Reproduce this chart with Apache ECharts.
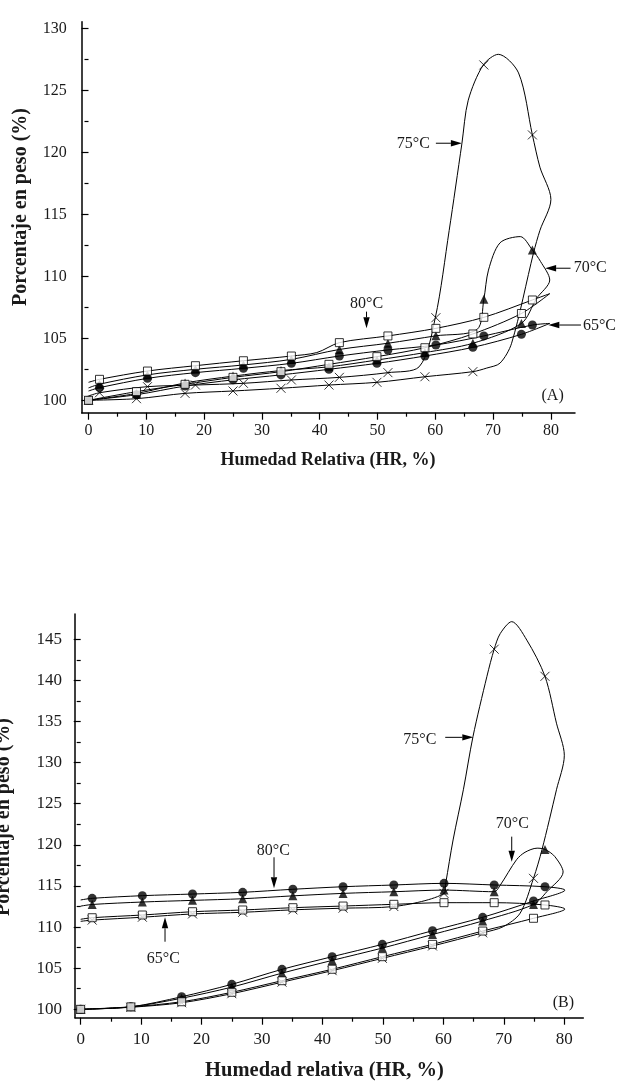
<!DOCTYPE html>
<html><head><meta charset="utf-8">
<script src="https://cdn.jsdelivr.net/npm/echarts@6/dist/echarts.min.js"></script>
<style>html,body{margin:0;padding:0;background:#fff}#c{width:619px;height:1084px}</style>
</head><body><div id="c"></div>
<script>
// ---------- DATA ----------
const SORP_X   = [0, 8.3, 16.7, 25, 33.3, 41.6, 49.9, 58.2, 66.5, 74.9];
const DESORP_X = [76.8, 68.4, 60.1, 51.8, 43.4, 35.1, 26.8, 18.5, 10.2, 1.9];
const X_TICK_MIN = 0, X_TICK_MAX = 80, X_TICK_STEP = 10;
const A_Y_TICK = [100, 130, 5];
const B_Y_TICK = [100, 145, 5];

// Panel A – markers
const A_65_SORP   = [100, 100.45, 101.15, 101.65, 102.05, 102.5, 102.98, 103.57, 104.27, 105.32];
const A_65_DESORP = [106.07, 105.19, 104.46, 104.06, 103.57, 102.98, 102.58, 102.23, 101.77, 101.02];
const A_70_SORP   = [100, 100.55, 101.4, 101.95, 102.4, 102.7, 103.25, 103.85, 104.6, 106.2];
const A_70_DESORP = [112.12, 108.15, 105.2, 104.6, 104.1, 103.3, 102.85, 102.5, 102.05, 101.3];
const A_75_SORP   = [100, 100.13, 100.56, 100.75, 100.97, 101.23, 101.45, 101.9, 102.31];
const A_75_DESORP = [121.4, 127.04, 106.66, 102.23, 101.85, 101.64, 101.37, 101.23, 101.1, 100.61];
const A_80_SORP   = [100, 100.7, 101.29, 101.85, 102.31, 102.9, 103.52, 104.24, 105.35, 107.0];
const A_80_DESORP = [108.09, 106.69, 105.8, 105.19, 104.65, 103.57, 103.19, 102.79, 102.36, 101.69];

// Panel A – fitted curves
const A_65_CURVE = [[0,100],[8.3,100.45],[16.7,101.15],[25,101.65],[33.3,102.05],[41.6,102.5],[49.9,102.98],[58.2,103.57],[66.5,104.27],[74.9,105.32],[79.8,106.2],[76.8,106.07],[68.4,105.19],[60.1,104.46],[51.8,104.06],[43.4,103.57],[35.1,102.98],[26.8,102.58],[18.5,102.23],[10.2,101.77],[1.9,101.02],[0,100.75]];
const A_70_CURVE = [[0,100],[8.3,100.55],[16.7,101.4],[25,101.95],[33.3,102.4],[41.6,102.7],[49.9,103.25],[58.2,103.85],[66.5,104.6],[74.9,106.2],[77.5,108.2],[79.8,109.7],[78.2,111.2],[76.8,112.12],[74.7,113.2],[71.2,112.7],[69.2,110.5],[68.4,108.15],[67.2,105.7],[60.1,105.2],[51.8,104.6],[43.4,104.1],[35.1,103.3],[26.8,102.85],[18.5,102.5],[10.2,102.05],[1.9,101.3],[0,101.0]];
const A_75_CURVE = [[0,100],[8.3,100.13],[16.7,100.56],[25,100.75],[33.3,100.97],[41.6,101.23],[49.9,101.45],[58.2,101.9],[66.5,102.31],[68.9,102.6],[71.2,103.0],[73.2,104.6],[77.0,111.9],[78.1,113.7],[80.0,116.2],[78.1,118.8],[76.8,121.4],[74.4,126.4],[70.9,127.9],[68.3,127.04],[65.7,124.2],[64.6,120.7],[62.4,113.7],[60.0,106.66],[57.2,102.7],[51.8,102.23],[43.4,101.85],[35.1,101.64],[26.8,101.37],[18.5,101.23],[10.2,101.1],[1.9,100.61],[0,100.35]];
const A_80_CURVE = [[0,100],[8.3,100.7],[16.7,101.29],[25,101.85],[33.3,102.31],[41.6,102.9],[49.9,103.52],[58.2,104.24],[66.5,105.35],[74.9,107.0],[79.8,108.6],[76.8,108.09],[68.4,106.69],[60.1,105.8],[51.8,105.19],[43.4,104.65],[39.5,103.85],[35.1,103.57],[26.8,103.19],[18.5,102.79],[10.2,102.36],[1.9,101.69],[0,101.45]];

// Panel B – markers
const B_65_SORP   = [100, 100.3, 101.53, 103.04, 104.86, 106.4, 107.9, 109.56, 111.19, 113.17];
const B_65_DESORP = [114.91, 115.12, 115.32, 115.12, 114.91, 114.6, 114.23, 114.02, 113.82, 113.5];
const B_70_SORP   = [100, 100.3, 101.35, 102.7, 104.4, 105.95, 107.45, 109.1, 110.75, 112.75];
const B_70_DESORP = [119.45, 114.3, 114.5, 114.3, 114.1, 113.8, 113.45, 113.25, 113.05, 112.75];
const B_75_SORP   = [100, 100.25, 100.8, 101.9, 103.3, 104.7, 106.2, 107.7, 109.3, 115.93];
const B_75_DESORP = [140.5, 143.8, 114.1, 112.5, 112.3, 112.1, 111.8, 111.6, 111.2, 110.85];
const B_80_SORP   = [100, 100.3, 100.92, 102.07, 103.48, 104.87, 106.4, 107.9, 109.52, 111.07];
const B_80_DESORP = [112.69, 112.97, 112.97, 112.77, 112.56, 112.36, 112.08, 111.87, 111.47, 111.14];

// Panel B – fitted curves
const B_65_CURVE = [[0,100],[8.3,100.3],[16.7,101.53],[25,103.04],[33.3,104.86],[41.6,106.4],[49.9,107.9],[58.2,109.56],[66.5,111.19],[74.9,113.17],[80.1,114.5],[76.8,114.91],[68.4,115.12],[60.1,115.32],[51.8,115.12],[43.4,114.91],[35.1,114.6],[26.8,114.23],[18.5,114.02],[10.2,113.82],[1.9,113.5],[0,113.3]];
const B_70_CURVE = [[0,100],[8.3,100.3],[16.7,101.35],[25,102.7],[33.3,104.4],[41.6,105.95],[49.9,107.45],[58.2,109.1],[66.5,110.75],[74.9,112.75],[77.1,114.3],[79.8,116.7],[78.4,118.6],[76.8,119.45],[75.5,119.6],[73.5,119.1],[72.1,118.2],[69.4,115.1],[68.4,114.3],[60.1,114.5],[51.8,114.3],[43.4,114.1],[35.1,113.8],[26.8,113.45],[18.5,113.25],[10.2,113.05],[1.9,112.75],[0,112.55]];
const B_75_CURVE = [[0,100],[8.3,100.25],[16.7,100.8],[25,101.9],[33.3,103.3],[41.6,104.7],[49.9,106.2],[58.2,107.7],[66.5,109.3],[69.9,110.05],[72.7,111.7],[74.9,115.93],[76.3,119.4],[78.7,126.7],[80.0,130.9],[78.7,134.8],[76.8,140.5],[73.8,144.9],[71.3,147.15],[69.4,145.7],[68.4,143.8],[67.2,140.5],[64.9,133.2],[63.3,126.7],[61.6,120.6],[60.4,115.4],[60.1,114.1],[51.8,112.5],[43.4,112.3],[35.1,112.1],[26.8,111.8],[18.5,111.6],[10.2,111.2],[1.9,110.85],[0,110.7]];
const B_80_CURVE = [[0,100],[8.3,100.3],[16.7,100.92],[25,102.07],[33.3,103.48],[41.6,104.87],[49.9,106.4],[58.2,107.9],[66.5,109.52],[74.9,111.07],[80.1,112.2],[76.8,112.69],[68.4,112.97],[60.1,112.97],[51.8,112.77],[43.4,112.56],[35.1,112.36],[26.8,112.08],[18.5,111.87],[10.2,111.47],[1.9,111.14],[0,110.95]];

// Annotations: arrows [x1,y1,x2,y2] (data units) and labels
const A_ARROWS = [[60.1,120.73,64.6,120.73],[83.4,110.65,79.0,110.65],[85.2,106.07,79.55,106.07],[48.1,107.15,48.1,105.8]];
const A_LABELS = [['75°C',56.2,120.67],['70°C',86.8,110.65],['65°C',88.4,105.99],['80°C',48.1,107.82],['(A)',80.3,100.35]];
const B_ARROWS = [[60.3,133.08,64.95,133.08],[71.3,121.0,71.3,117.95],[31.98,118.49,31.98,114.72],[13.95,108.22,13.95,111.19]];
const B_LABELS = [['75°C',56.1,132.76],['70°C',71.4,122.62],['80°C',31.86,119.29],['65°C',13.66,106.2],['(B)',79.83,100.8]];

// ---------- CHART ----------
const FONT = '"Liberation Serif", "Times New Roman", serif';
const INK = '#1a1a1a';
const pairs = (xs, ys) => ys.map((y, i) => [xs[i], y]);

const SYMBOLS = {
  circle:   {symbol:'circle', symbolSize:9, itemStyle:{color:'#000'}},
  triangle: {symbol:'triangle', symbolSize:9, itemStyle:{color:'#000'}},
  cross:    {symbol:'path://M0,0L10,10M10,0L0,10', symbolSize:9, itemStyle:{color:'rgba(0,0,0,0)', borderColor:'#000', borderWidth:1}},
  square:   {symbol:'rect', symbolSize:8, itemStyle:{color:'#fff', borderColor:'#000', borderWidth:1}}
};

const PANELS = [
  {g:0, arrows:A_ARROWS, labels:A_LABELS, loops:[
    {name:'75°C', sym:'cross', curve:A_75_CURVE, sorp:A_75_SORP, desorp:A_75_DESORP},
    {name:'70°C', sym:'triangle', curve:A_70_CURVE, sorp:A_70_SORP, desorp:A_70_DESORP},
    {name:'65°C', sym:'circle', curve:A_65_CURVE, sorp:A_65_SORP, desorp:A_65_DESORP},
    {name:'80°C', sym:'square', curve:A_80_CURVE, sorp:A_80_SORP, desorp:A_80_DESORP}]},
  {g:2, arrows:B_ARROWS, labels:B_LABELS, loops:[
    {name:'75°C', sym:'cross', curve:B_75_CURVE, sorp:B_75_SORP, desorp:B_75_DESORP},
    {name:'70°C', sym:'triangle', curve:B_70_CURVE, sorp:B_70_SORP, desorp:B_70_DESORP},
    {name:'65°C', sym:'circle', curve:B_65_CURVE, sorp:B_65_SORP, desorp:B_65_DESORP},
    {name:'80°C', sym:'square', curve:B_80_CURVE, sorp:B_80_SORP, desorp:B_80_DESORP}]}
];

function mainAxis(gridIndex, min, max) {
  return {type:'value', gridIndex, min, max,
    axisLine:{show:true, onZero:false, lineStyle:{color:'#000', width:1.5}},
    axisTick:{show:false}, axisLabel:{show:false}, splitLine:{show:false}};
}
function tickAxis(gridIndex, min, max, step, offset, margin, fs) {
  return {type:'value', gridIndex, min, max, interval:step, offset,
    axisLine:{show:false},
    axisTick:{show:true, length:7, lineStyle:{color:'#000', width:1.2}},
    minorTick:{show:true, splitNumber:2, length:4, lineStyle:{color:'#000', width:1.2}},
    axisLabel:{margin, fontSize:fs, fontFamily:FONT, color:INK},
    splitLine:{show:false}};
}

const grid = [
  {left:81.7, top:21.7, width:493.3, height:391},
  {left:88.5, top:28.3, width:462.4, height:372},
  {left:75, top:614, width:508.3, height:403.7},
  {left:80.7, top:639.3, width:483.6, height:370}
];
const xAxis = [
  mainAxis(0, -1.18, 84.17),
  tickAxis(1, X_TICK_MIN, X_TICK_MAX, X_TICK_STEP, 12.4, 10, 16),
  mainAxis(2, -0.94, 83.14),
  tickAxis(3, X_TICK_MIN, X_TICK_MAX, X_TICK_STEP, 8.4, 13, 17)
];
const yAxis = [
  mainAxis(0, 99.0, 130.53),
  tickAxis(1, A_Y_TICK[0], A_Y_TICK[1], A_Y_TICK[2], 6.8, 15, 16),
  mainAxis(2, 98.98, 148.08),
  tickAxis(3, B_Y_TICK[0], B_Y_TICK[1], B_Y_TICK[2], 5.7, 13, 17)
];

const series = [];
PANELS.forEach(p => {
  p.loops.forEach(l => series.push({type:'line', name:l.name, xAxisIndex:p.g, yAxisIndex:p.g,
    data:l.curve, showSymbol:false, symbol:'none', smooth:0.3, silent:true, z:2,
    lineStyle:{color:'#000', width:1}}));
  p.loops.forEach(l => series.push(Object.assign({type:'scatter', name:l.name, xAxisIndex:p.g, yAxisIndex:p.g,
    data:pairs(SORP_X, l.sorp).concat(pairs(DESORP_X, l.desorp)), silent:true, z:3}, SYMBOLS[l.sym])));
  series.push({type:'custom', xAxisIndex:p.g, yAxisIndex:p.g, silent:true, z:5, clip:false,
    data:p.arrows,
    renderItem:(params, api) => {
      const a = api.coord([api.value(0), api.value(1)]);
      const b = api.coord([api.value(2), api.value(3)]);
      const dx = b[0]-a[0], dy = b[1]-a[1], len = Math.hypot(dx, dy);
      const ux = dx/len, uy = dy/len, hl = 11, hw = 3.2;
      const bx = b[0]-ux*hl, by = b[1]-uy*hl;
      return {type:'group', children:[
        {type:'line', shape:{x1:a[0], y1:a[1], x2:bx, y2:by}, style:{stroke:'#000', lineWidth:1}},
        {type:'polygon', shape:{points:[[b[0],b[1]],[bx-uy*hw, by+ux*hw],[bx+uy*hw, by-ux*hw]]}, style:{fill:'#000'}}
      ]};
    }});
  const labs = p.labels;
  series.push({type:'custom', xAxisIndex:p.g, yAxisIndex:p.g, silent:true, z:6, clip:false,
    data:labs.map(l => [l[1], l[2]]),
    renderItem:(params, api) => {
      const c = api.coord([api.value(0), api.value(1)]);
      return {type:'text', x:c[0], y:c[1], style:{text:labs[params.dataIndex][0], fill:INK,
        fontSize:16, fontFamily:FONT, align:'center', verticalAlign:'middle'}};
    }});
});

const graphic = [
  {type:'text', x:328, y:460, style:{text:'Humedad Relativa (HR, %)', fill:INK, font:'bold 18px ' + FONT, align:'center', verticalAlign:'middle'}},
  {type:'text', x:21, y:207, rotation:Math.PI/2, style:{text:'Porcentaje en peso (%)', fill:INK, font:'bold 20px ' + FONT, align:'center', verticalAlign:'middle'}},
  {type:'text', x:324.5, y:1071, style:{text:'Humedad relativa (HR, %)', fill:INK, font:'bold 20.5px ' + FONT, align:'center', verticalAlign:'middle'}},
  {type:'text', x:4, y:817, rotation:Math.PI/2, style:{text:'Porcentaje en peso (%)', fill:INK, font:'bold 20px ' + FONT, align:'center', verticalAlign:'middle'}}
];

const chart = echarts.init(document.getElementById('c'));
chart.setOption({animation:false, backgroundColor:'#fff', grid, xAxis, yAxis, series, graphic});
</script>
</body></html>
